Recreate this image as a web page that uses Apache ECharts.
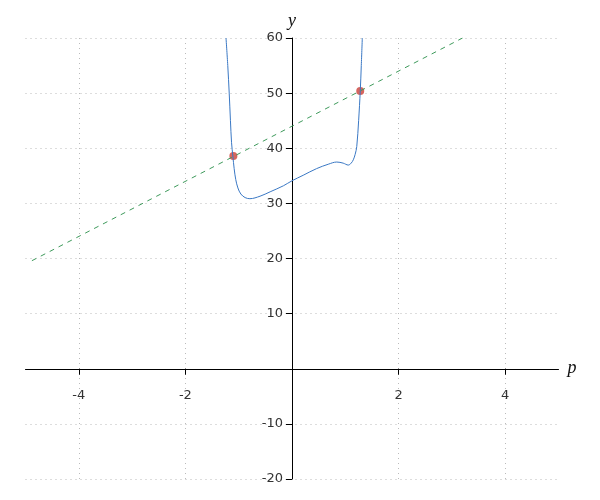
<!DOCTYPE html>
<html>
<head>
<meta charset="utf-8">
<script src="https://cdn.jsdelivr.net/npm/echarts@6/dist/echarts.min.js"></script>
<style>html,body{margin:0;padding:0;background:#fff}#c{width:600px;height:500px}</style>
</head>
<body>
<div id="c"></div>
<script>
// Curve samples: [p, y]
var curvePoints = [
  [-1.238, 60], [-1.205, 55], [-1.178, 50], [-1.155, 45], [-1.134, 41], [-1.11, 38.6],
  [-1.085, 36.3], [-1.055, 34.3], [-1.015, 32.8], [-0.96, 31.7], [-0.88, 31.05], [-0.79, 30.85],
  [-0.60, 31.3], [-0.41, 32.1], [-0.16, 33.2], [0, 34.1], [0.21, 35.1], [0.46, 36.3],
  [0.68, 37.1], [0.84, 37.5], [0.96, 37.3], [1.056, 36.95], [1.11, 37.3], [1.15, 37.9],
  [1.185, 38.9], [1.215, 40.3], [1.25, 45], [1.281, 50.45], [1.30, 55], [1.319, 60]
];
// Dashed line end points
var linePoints = [[-4.88, 19.6], [3.2, 60]];
// Intersection points
var markerPoints = [[-1.10, 38.6], [1.28, 50.4]];
// Tick labels
var xTicks = [-4, -2, 2, 4];
var yTicks = [-20, -10, 10, 20, 30, 40, 50, 60];
var xRange = [-5, 5];
var yRange = [-20, 60];

var G = {left: 25.5, right: 41.5, top: 38, bottom: 21};
var W = 600 - G.left - G.right, H = 500 - G.top - G.bottom;
// place each axis line at the other axis's zero
var yAxisOffset = -(0 - xRange[0]) / (xRange[1] - xRange[0]) * W;
var xAxisOffset = -(0 - yRange[0]) / (yRange[1] - yRange[0]) * H;

var chart = echarts.init(document.getElementById('c'), null, {renderer: 'canvas'});
var labelFont = {fontFamily: 'DejaVu Sans', fontSize: 13, color: '#333'};
var nameFont = {fontFamily: 'Liberation Serif', fontStyle: 'italic', fontSize: 18, color: '#111'};
chart.setOption({
  animation: false,
  grid: {left: G.left, right: G.right, top: G.top, bottom: G.bottom, containLabel: false, outerBoundsMode: 'none'},
  xAxis: {
    type: 'value', min: xRange[0], max: xRange[1], position: 'bottom', offset: xAxisOffset,
    name: 'p', nameLocation: 'end', nameGap: 9, nameTextStyle: nameFont,
    axisLine: {onZero: false, lineStyle: {color: '#000', width: 1}},
    axisTick: {show: true, length: 6, customValues: xTicks, lineStyle: {color: '#000'}},
    axisLabel: Object.assign({margin: 20, customValues: xTicks}, labelFont),
    splitLine: {show: true, lineStyle: {type: [1, 4], color: '#bbb', width: 1}}
  },
  yAxis: {
    type: 'value', min: yRange[0], max: yRange[1], interval: 10, position: 'left', offset: yAxisOffset,
    name: 'y', nameLocation: 'end', nameGap: 8, nameTextStyle: nameFont,
    axisLine: {onZero: false, lineStyle: {color: '#000', width: 1}},
    axisTick: {show: true, length: 6, customValues: yTicks, lineStyle: {color: '#000'}},
    axisLabel: Object.assign({margin: 9, customValues: yTicks}, labelFont),
    splitLine: {show: true, lineStyle: {type: [1, 4], color: '#bbb', width: 1}}
  },
  series: [
    {
      type: 'line', data: linePoints, showSymbol: false, silent: true,
      lineStyle: {color: '#3f9a5c', width: 1, type: [5, 5]}
    },
    {
      type: 'line', data: curvePoints, showSymbol: false, smooth: 0.35,
      lineStyle: {color: '#3a78c4', width: 1}
    },
    {
      type: 'scatter', data: markerPoints, symbolSize: 8,
      itemStyle: {color: '#cc3f36'}
    }
  ]
});
</script>
</body>
</html>
